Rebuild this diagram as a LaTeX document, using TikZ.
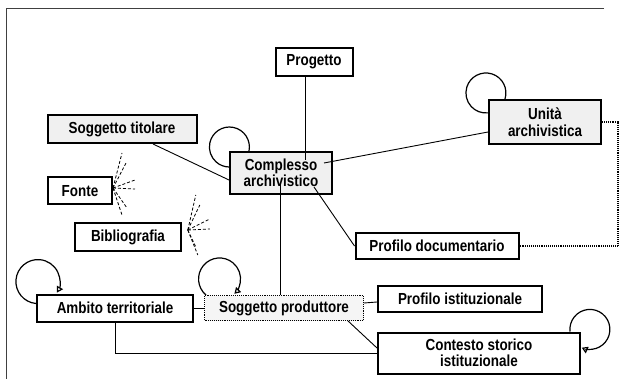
\documentclass[tikz,border=0pt]{standalone}
\usepackage{fontspec}
\setmainfont{Liberation Sans}[FakeStretch=0.84]
\usetikzlibrary{arrows.meta}
\begin{document}
\begin{tikzpicture}[x=1pt,y=1pt,
  box/.style={draw, line width=2pt, inner sep=0pt, align=center, font=\fontsize{16}{16.5}\selectfont\bfseries},
  shaded/.style={box, fill=gray!12},
  link/.style={line width=0.9pt},
  loopy/.style={line width=1.2pt},
  fan/.style={dashed, dash pattern=on 3pt off 2pt, line width=0.8pt}]
  \useasboundingbox (0,0) rectangle (623,-379);
  \draw[black!75, line width=1pt] (604,-9) -- (6,-9) -- (6,-379);
  \node[box, minimum width=77, minimum height=28] (prog) at (314,-62) {Progetto};
  \node[shaded, minimum width=149, minimum height=28] (tit) at (122,-129) {Soggetto titolare};
  \node[shaded, minimum width=102, minimum height=42] (cplx) at (281,-173) {Complesso\\archivistico};
  \node[shaded, minimum width=112, minimum height=44] (ua) at (545,-122) {Unità\\archivistica};
  \node[box, minimum width=64, minimum height=27] (fonte) at (80,-191) {Fonte};
  \node[box, line width=1.6pt, minimum width=106, minimum height=28] (bib) at (128,-237) {Bibliografia};
  \node[box, minimum width=163, minimum height=26] (pd) at (437,-246) {Profilo documentario};
  \node[box, minimum width=156, minimum height=27] (amb) at (115,-308) {Ambito territoriale};
  \node[box, fill=gray!8, line width=0.9pt, densely dotted, minimum width=159, minimum height=25] (sp) at (284,-308) {Soggetto produttore};
  \node[box, minimum width=164, minimum height=26] (pi) at (460,-299) {Profilo istituzionale};
  \node[box, minimum width=202, minimum height=41] (cst) at (479,-353) {Contesto storico\\istituzionale};

  \draw[link] ([xshift=-9pt]prog.south) -- ([xshift=24pt,yshift=13pt]cplx.center);
  \draw[link] ([xshift=31pt]tit.south) -- ([yshift=-7pt]cplx.west);
  \draw[link] ([xshift=43pt,yshift=10pt]cplx.center) -- ([yshift=-10pt]ua.west);
  \draw[link] ([xshift=33pt,yshift=-14pt]cplx.center) -- (pd.west);
  \draw[link] ([xshift=-1pt,yshift=-10pt]cplx.center) -- ([xshift=-4pt]sp.north);
  \draw[link, densely dotted, line width=1.1pt] (ua.east) -- ++(16,0) |- (pd.east);
  \draw[link] (amb.east) -- (sp.west);
  \draw[link] ([yshift=5pt]sp.east) -- ([yshift=-3pt]pi.west);
  \draw[link] ([xshift=64pt]sp.south) -- ([yshift=5pt]cst.west);
  \draw[link] (amb.south) |- (cst.west);

  \draw[loopy] ([xshift=20pt]cplx.north west) arc[start angle=-11.5, end angle=270, radius=20pt];
  \draw[loopy] ([xshift=17pt]ua.north west) arc[start angle=-17.5, end angle=276, radius=20pt];
  \draw[loopy, -{Triangle[open, length=6pt, width=7pt]}] ([yshift=-10pt]amb.north west) arc[start angle=265, end angle=-30, radius=22pt];
  \draw[loopy, -{Triangle[open, length=6pt, width=7pt]}] ([xshift=2pt]sp.north west) arc[start angle=230, end angle=-45, radius=21pt];
  \draw[loopy, -{Triangle[open, length=6pt, width=7pt]}] ([xshift=-11pt]cst.north east) arc[start angle=186, end angle=-114, radius=20pt];

  \foreach \dx/\dy in {9/35, 13/25, 22/8, 22/-1, 9/-27, 14/-20}
    \draw[fan] ([yshift=3pt]fonte.east) -- ++(\dx,\dy);
  \foreach \dx/\dy in {8/35, 12/25, 22/11, 22/1, 10/-25, 8/-17}
    \draw[fan] ([xshift=6pt,yshift=7pt]bib.east) -- ++(\dx,\dy);
\end{tikzpicture}
\end{document}
